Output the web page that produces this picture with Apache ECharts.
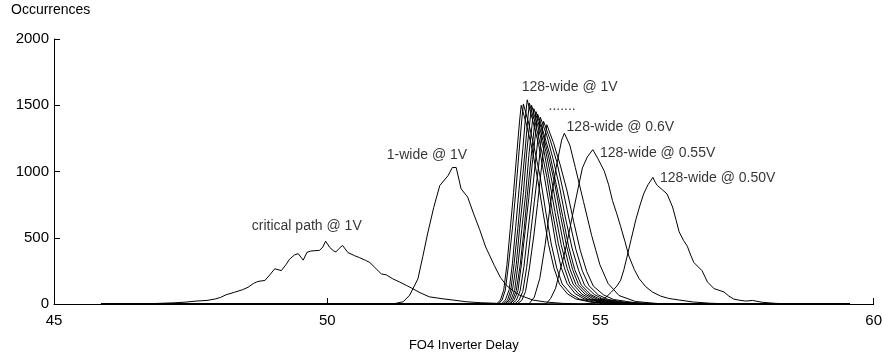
<!DOCTYPE html>
<html>
<head>
<meta charset="utf-8">
<script src="https://cdn.jsdelivr.net/npm/echarts@6/dist/echarts.min.js"></script>
<style>
html,body{margin:0;padding:0;background:#fff;}
#chart{width:885px;height:357px;}
</style>
</head>
<body>
<div id="chart"></div>
<script>
// ---- axis ticks ----
var xTicks = [45, 50, 55, 60];
var yTicks = [0, 500, 1000, 1500, 2000];
var dataStart = 45.86, dataEnd = 59.56;

// ---- curves: [FO4 delay, occurrences] ----
var criticalPath = [[45.86,0],[46.6,0],[46.8,3],[47.0,6],[47.2,9],[47.4,14],[47.6,22],[47.8,27],[47.95,38],[48.05,50],[48.15,70],[48.3,88],[48.45,108],[48.55,126],[48.65,155],[48.73,170],[48.86,178],[48.95,220],[49.04,266],[49.16,252],[49.25,300],[49.31,338],[49.4,370],[49.47,380],[49.56,331],[49.63,390],[49.7,400],[49.86,405],[49.92,430],[49.97,474],[50.05,425],[50.12,400],[50.16,393],[50.22,420],[50.28,442],[50.38,388],[50.5,365],[50.59,350],[50.7,330],[50.78,313],[50.87,276],[50.99,227],[51.08,220],[51.2,190],[51.33,165],[51.45,140],[51.54,121],[51.7,85],[51.87,54],[52.1,40],[52.3,30],[52.54,17],[52.8,10],[53.1,5],[53.5,2],[54.0,0],[59.56,0]];

var oneWide1V = [[45.86,0],[51.2,0],[51.39,17],[51.51,67],[51.66,190],[51.75,360],[51.84,536],[51.95,730],[52.06,894],[52.21,968],[52.29,1030],[52.36,1030],[52.45,869],[52.57,807],[52.68,680],[52.79,561],[52.9,430],[53.06,289],[53.17,200],[53.28,141],[53.4,100],[53.52,67],[53.76,30],[54.0,15],[54.3,5],[54.6,0],[59.56,0]];

var w128_c1 = [[53.10,0],[53.17,30],[53.23,105],[53.29,300],[53.35,570],[53.41,840],[53.47,1140],[53.52,1380],[53.55,1500],[53.60,1425],[53.65,1350],[53.75,1170],[53.85,945],[53.95,690],[54.05,450],[54.15,270],[54.25,150],[54.40,75],[54.55,38],[54.85,12],[55.25,0]];
var w128_c2 = [[53.13,0],[53.20,30],[53.26,106],[53.32,302],[53.39,574],[53.45,846],[53.51,1148],[53.56,1389],[53.59,1510],[53.64,1435],[53.69,1359],[53.79,1178],[53.90,951],[54.00,695],[54.10,453],[54.20,272],[54.30,151],[54.46,76],[54.61,38],[54.92,12],[55.32,0]];
var w128_c3 = [[53.19,0],[53.26,31],[53.33,108],[53.39,308],[53.45,586],[53.51,863],[53.58,1171],[53.63,1418],[53.66,1541],[53.71,1464],[53.76,1387],[53.87,1202],[53.97,971],[54.08,709],[54.18,462],[54.28,277],[54.39,154],[54.54,77],[54.70,39],[55.01,12],[55.43,0]];
var w128_c4 = [[53.22,0],[53.30,30],[53.36,106],[53.42,303],[53.49,576],[53.55,850],[53.62,1153],[53.67,1396],[53.70,1517],[53.75,1441],[53.81,1365],[53.91,1183],[54.02,956],[54.12,698],[54.23,455],[54.34,273],[54.44,152],[54.60,76],[54.76,38],[55.08,12],[55.50,0]];
var w128_c5 = [[53.25,0],[53.33,30],[53.39,105],[53.46,300],[53.52,570],[53.59,840],[53.65,1140],[53.71,1380],[53.74,1500],[53.79,1425],[53.85,1350],[53.96,1170],[54.06,945],[54.17,690],[54.28,450],[54.39,270],[54.50,150],[54.66,75],[54.82,38],[55.14,12],[55.58,0]];
var w128_c6 = [[53.28,0],[53.36,30],[53.43,103],[53.49,295],[53.56,561],[53.63,826],[53.69,1121],[53.75,1357],[53.78,1475],[53.84,1401],[53.89,1328],[54.00,1151],[54.11,929],[54.22,679],[54.33,443],[54.44,266],[54.55,148],[54.72,74],[54.88,37],[55.21,12],[55.65,0]];
var w128_c7 = [[53.32,0],[53.39,29],[53.46,102],[53.53,290],[53.60,552],[53.66,813],[53.73,1104],[53.79,1336],[53.82,1452],[53.88,1379],[53.93,1307],[54.04,1133],[54.16,915],[54.27,668],[54.38,436],[54.49,261],[54.60,145],[54.77,73],[54.94,36],[55.28,12],[55.72,0]];
var w128_c8 = [[53.34,0],[53.42,29],[53.49,100],[53.55,287],[53.62,545],[53.69,803],[53.76,1090],[53.82,1319],[53.85,1434],[53.91,1362],[53.96,1291],[54.08,1119],[54.19,903],[54.31,660],[54.42,430],[54.53,258],[54.65,143],[54.82,72],[54.99,36],[55.33,11],[55.79,0]];
var w128_c9 = [[53.38,0],[53.46,28],[53.53,99],[53.60,282],[53.67,536],[53.74,790],[53.81,1072],[53.87,1297],[53.90,1410],[53.96,1340],[54.02,1269],[54.13,1100],[54.25,888],[54.36,649],[54.48,423],[54.60,254],[54.71,141],[54.89,71],[55.06,35],[55.41,11],[55.87,0]];
var w128_c10 = [[53.43,0],[53.51,28],[53.58,96],[53.65,276],[53.72,524],[53.79,772],[53.87,1047],[53.92,1268],[53.96,1378],[54.02,1309],[54.08,1240],[54.20,1075],[54.31,868],[54.43,634],[54.55,413],[54.67,248],[54.79,138],[54.96,69],[55.14,34],[55.49,11],[55.96,0]];
var w128_c11 = [[53.47,0],[53.56,27],[53.63,95],[53.70,271],[53.78,514],[53.85,758],[53.92,1028],[53.98,1245],[54.02,1353],[54.08,1285],[54.14,1218],[54.26,1055],[54.39,852],[54.51,622],[54.63,406],[54.75,244],[54.87,135],[55.06,68],[55.24,34],[55.61,11],[56.09,0]];
var w128_06V = [[53.69,0],[53.79,52],[53.89,193],[53.99,451],[54.09,773],[54.19,1031],[54.29,1237],[54.34,1289],[54.44,1199],[54.54,1031],[54.69,773],[54.84,516],[54.99,296],[55.14,155],[55.34,64],[55.64,19],[56.14,0]];
var w128_055V = [[54.0,0],[54.09,42],[54.18,120],[54.25,239],[54.33,360],[54.40,486],[54.46,610],[54.52,732],[54.60,890],[54.67,1027],[54.76,1110],[54.86,1165],[54.95,1100],[55.07,1003],[55.15,900],[55.22,781],[55.30,680],[55.37,584],[55.45,470],[55.52,362],[55.62,260],[55.71,190],[55.83,130],[55.95,91],[56.1,60],[56.25,42],[56.44,30],[56.7,15],[57.0,6],[57.4,0]];
var w128_050V = [[54.7,0],[54.9,8],[55.0,25],[55.1,50],[55.2,90],[55.3,135],[55.37,180],[55.43,260],[55.49,362],[55.56,485],[55.65,640],[55.72,740],[55.79,830],[55.87,900],[55.96,956],[56.0,920],[56.04,895],[56.14,860],[56.22,830],[56.32,732],[56.38,640],[56.44,545],[56.52,480],[56.59,436],[56.65,370],[56.71,313],[56.86,251],[56.96,165],[57.08,116],[57.26,91],[57.35,60],[57.44,37],[57.55,28],[57.66,22],[57.78,27],[57.96,13],[58.2,5],[58.5,0]];

// ---- annotations ----
var labelTexts = ['critical path @ 1V', '1-wide @ 1V', '128-wide @ 1V', '.......', '128-wide @ 0.6V', '128-wide @ 0.55V', '128-wide @ 0.50V'];
var labelX = [48.62, 51.09, 53.56, 54.05, 54.38, 54.99, 56.09];
var labelY = [584, 1126, 1633, 1490, 1338, 1137, 952];

var allCurves = [criticalPath, oneWide1V, w128_c1, w128_c2, w128_c3, w128_c4, w128_c5, w128_c6, w128_c7, w128_c8, w128_c9, w128_c10, w128_c11, w128_06V, w128_055V, w128_050V];

function pad(c) {
  var out = c.slice();
  if (out[0][0] > dataStart) out.unshift([dataStart, 0]);
  if (out[out.length - 1][0] < dataEnd) out.push([dataEnd, 0]);
  return out;
}

var FONT = '"Liberation Sans", Arial, Helvetica, sans-serif';
var series = allCurves.map(function (c) {
  return {
    type: 'line', data: pad(c), showSymbol: false, symbol: 'none',
    lineStyle: { color: '#000', width: 1 }, silent: true, animation: false
  };
});
series.push({
  type: 'scatter', symbolSize: 0, silent: true, animation: false,
  data: labelTexts.map(function (t, i) { return [labelX[i], labelY[i], t]; }),
  label: {
    show: true, position: 'right', distance: 0,
    formatter: function (p) { return p.data[2]; },
    color: '#000', fontSize: 14, fontFamily: FONT
  }
});

var chart = echarts.init(document.getElementById('chart'), null, { renderer: 'canvas' });
chart.setOption({
  animation: false,
  backgroundColor: '#fff',
  title: {
    text: 'Occurrences', left: 6, top: -2,
    textStyle: { fontSize: 14, fontWeight: 'normal', color: '#000', fontFamily: FONT }
  },
  grid: { left: 54, right: 10, top: 39, bottom: 48, containLabel: false },
  xAxis: {
    type: 'value', min: xTicks[0], max: xTicks[xTicks.length - 1], interval: 5,
    name: 'FO4 Inverter Delay', nameLocation: 'middle', nameGap: 35,
    nameTextStyle: { fontSize: 13, color: '#000', fontFamily: FONT },
    axisLine: { show: true, lineStyle: { color: '#000', width: 1 } },
    axisTick: { show: true, inside: true, length: 6, lineStyle: { color: '#000' } },
    axisLabel: { fontSize: 15, color: '#000', fontFamily: FONT, margin: 9,
      formatter: function (v) { return String(v); } },
    splitLine: { show: false }
  },
  yAxis: {
    type: 'value', min: yTicks[0], max: yTicks[yTicks.length - 1], interval: 500,
    axisLine: { show: true, lineStyle: { color: '#000', width: 1 } },
    axisTick: { show: true, inside: true, length: 6, lineStyle: { color: '#000' } },
    axisLabel: { fontSize: 15, color: '#000', fontFamily: FONT, margin: 5,
      formatter: function (v) { return String(v); } },
    splitLine: { show: false }
  },
  series: series
});
</script>
</body>
</html>
